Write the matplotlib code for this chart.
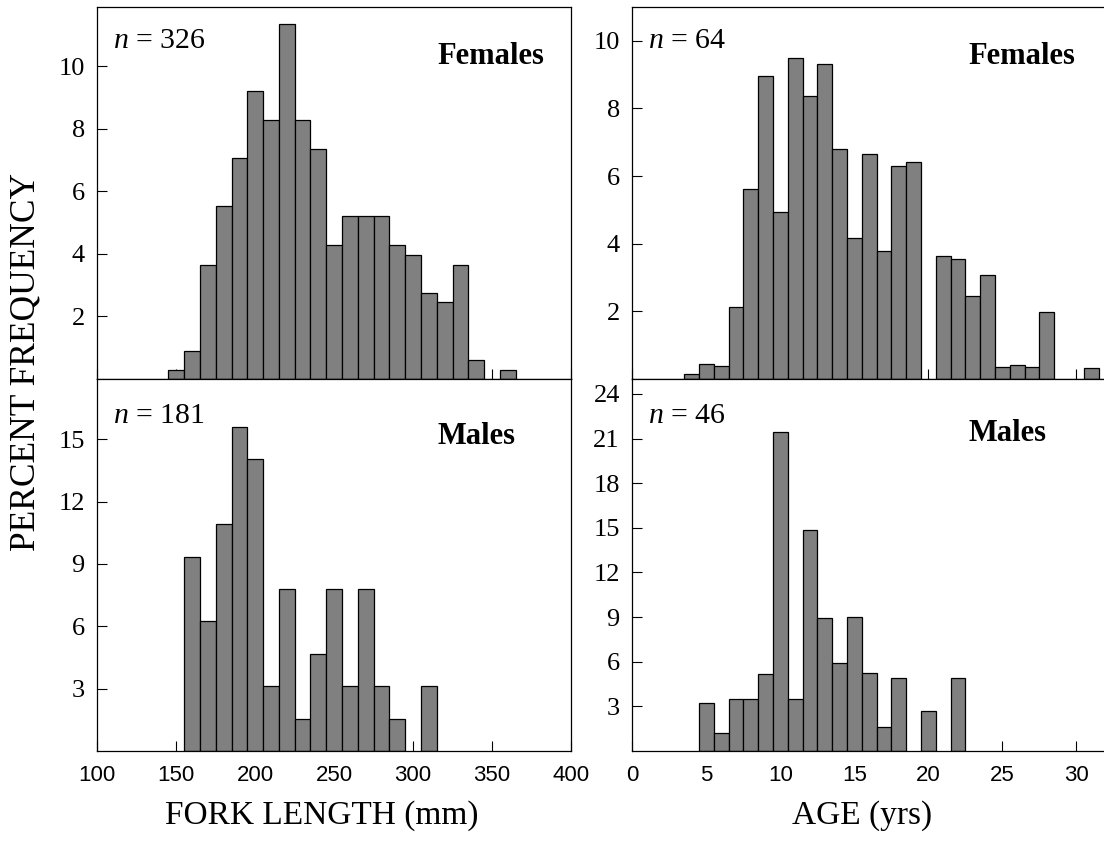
import matplotlib
matplotlib.use('Agg')
import matplotlib.pyplot as plt
from matplotlib import font_manager

# fork length (mm), bin centres of 10 mm classes, percent frequency
fl_fem_mm = [150, 160, 170, 180, 190, 200, 210, 220, 230, 240, 250, 260, 270,
             280, 290, 300, 310, 320, 330, 340, 360]
fl_fem_pct = [0.29, 0.90, 3.66, 5.52, 7.06, 9.21, 8.28, 11.35, 8.28, 7.35, 4.28,
              5.20, 5.20, 5.20, 4.28, 3.98, 2.74, 2.45, 3.66, 0.60, 0.29]
fl_male_mm = [160, 170, 180, 190, 200, 210, 220, 230, 240, 250, 260, 270, 280,
              290, 310]
fl_male_pct = [9.35, 6.25, 10.92, 15.61, 14.04, 3.14, 7.78, 1.56, 4.68, 7.78,
               3.14, 7.78, 3.14, 1.56, 3.14]

# age (yrs), one-year classes
age_fem_yr = [4, 5, 6, 7, 8, 9, 10, 11, 12, 13, 14, 15, 16, 17, 18, 19,
              21, 22, 23, 24, 25, 26, 27, 28, 31]
age_fem_pct = [0.16, 0.43, 0.37, 2.14, 5.62, 8.97, 4.94, 9.49, 8.36, 9.31, 6.80,
               4.17, 6.65, 3.78, 6.30, 6.42, 3.65, 3.55, 2.45, 3.07, 0.35, 0.41,
               0.35, 1.97, 0.32]
age_male_yr = [5, 6, 7, 8, 9, 10, 11, 12, 13, 14, 15, 16, 17, 18, 20, 22]
age_male_pct = [3.25, 1.23, 3.51, 3.51, 5.19, 21.42, 3.51, 14.84, 8.91, 5.89,
                9.00, 5.26, 1.61, 4.88, 2.71, 4.88]

n_labels = ['326', '181', '64', '46']

installed = {f.name for f in font_manager.fontManager.ttflist}
sans = 'Liberation Sans Narrow' if 'Liberation Sans Narrow' in installed else 'Liberation Sans'

plt.rcParams['font.family'] = ['Liberation Serif', 'DejaVu Serif']
plt.rcParams['mathtext.fontset'] = 'custom'
plt.rcParams['mathtext.rm'] = 'Liberation Serif'
plt.rcParams['mathtext.it'] = 'Liberation Serif:italic'

W, H = 1104, 841
fig = plt.figure(figsize=(W / 100, H / 100), dpi=100)


def add_ax(x0, y0, x1, y1):
    return fig.add_axes([x0 / W, 1 - y1 / H, (x1 - x0) / W, (y1 - y0) / H])


def panel(ax, x, y, width, xlim, ylim, yticks, xticks, labels, ntext, sex, sex_x, sex_y, n_y):
    ax.bar(x, y, width=width, color='#808080', edgecolor='black', linewidth=0.9)
    ax.set_xlim(xlim)
    ax.set_ylim(ylim)
    ax.set_xticks(xticks)
    ax.set_yticks(yticks)
    ax.set_axisbelow(True)
    ax.tick_params(direction='in', length=7, width=0.8, top=False, right=False)
    ax.tick_params(axis='y', labelsize=19, pad=9)
    ax.tick_params(axis='x', labelsize=16, pad=10, labelbottom=labels,
                   labelfontfamily=sans)
    for s in ax.spines.values():
        s.set_linewidth(0.9)
    ax.text(0.034, n_y, '$n$ = ' + ntext, transform=ax.transAxes, fontsize=21.5,
            va='baseline', ha='left')
    ax.text(sex_x, sex_y, sex, transform=ax.transAxes, fontsize=22,
            fontweight='bold', va='baseline', ha='left')


ax1 = add_ax(97.3, 7, 571, 379)
ax2 = add_ax(97.3, 379, 571, 751)
ax3 = add_ax(632.3, 7, 1106, 379)
ax4 = add_ax(632.3, 379, 1106, 751)

fl_ticks = [100, 150, 200, 250, 300, 350, 400]
age_ticks = [0, 5, 10, 15, 20, 25, 30]

panel(ax1, fl_fem_mm, fl_fem_pct, 10, (100, 400), (0, 11.9), [2, 4, 6, 8, 10],
      fl_ticks, False, n_labels[0], 'Females', 0.719, 0.847, 0.89)
panel(ax2, fl_male_mm, fl_male_pct, 10, (100, 400), (0, 17.9), [3, 6, 9, 12, 15],
      fl_ticks, True, n_labels[1], 'Males', 0.719, 0.825, 0.882)
panel(ax3, age_fem_yr, age_fem_pct, 1, (0, 32), (0, 11), [2, 4, 6, 8, 10],
      age_ticks, False, n_labels[2], 'Females', 0.709, 0.847, 0.89)
panel(ax4, age_male_yr, age_male_pct, 1, (0, 32), (0, 25),
      [3, 6, 9, 12, 15, 18, 21, 24], age_ticks, True, n_labels[3], 'Males',
      0.709, 0.833, 0.882)

fig.text(35 / W, 1 - 362 / H, 'PERCENT FREQUENCY', rotation=90,
         rotation_mode='anchor', ha='center', va='baseline', fontsize=25.5)
fig.text(322 / W, 1 - 824 / H, 'FORK LENGTH (mm)', ha='center', va='baseline',
         fontsize=24)
fig.text(862 / W, 1 - 824 / H, 'AGE (yrs)', ha='center', va='baseline',
         fontsize=24)

fig.savefig('out.png', dpi=100)
